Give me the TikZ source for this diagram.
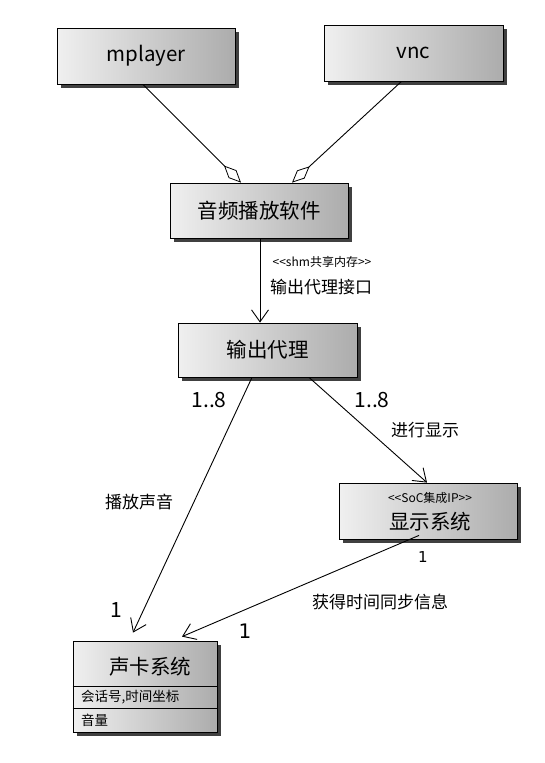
\documentclass[tikz,border=0pt]{standalone}
\usepackage{fontspec}
\setmainfont{Noto Sans CJK SC}
\newfontfamily\djv{DejaVu Sans}
\usetikzlibrary{arrows.meta,shadows,calc}
\tikzset{
  cls/.style={draw=black, line width=0.8pt, left color=gray!12, right color=gray!65,
    drop shadow={shadow xshift=3.5pt, shadow yshift=-4pt, opacity=0.75, fill=black},
    inner sep=0pt, font=\fontsize{20.5}{22}\selectfont},
  conn/.style={draw=black, line width=0.9pt},
  openarrow/.style={-{Straight Barb[length=12pt,width=17pt,line width=0.9pt]}},
  agg/.style={{Diamond[open,length=24pt,width=11pt,line width=0.8pt]}-},
  lbl/.style={font=\fontsize{17}{19}\selectfont, inner sep=0pt},
  mult/.style={font=\fontsize{21}{23}\selectfont, inner sep=0pt},
  small/.style={font=\fontsize{12}{14}\selectfont, inner sep=0pt},
  attr/.style={font=\fontsize{13.5}{15}\selectfont, inner sep=0pt, anchor=west}
}
\begin{document}
\begin{tikzpicture}[x=1pt,y=-1pt]
\useasboundingbox (0,0) rectangle (544,763);
\fill[white] (0,0) rectangle (544,763);

\node[cls, minimum width=178pt, minimum height=56pt] (mp) at (146,56) {mplayer};
\node[cls, minimum width=179pt, minimum height=56pt] (vnc) at (413.5,53) {vnc};
\node[cls, minimum width=178pt, minimum height=55pt] (af) at (259,210.5) {音频播放软件};
\node[cls, minimum width=179pt, minimum height=54pt] (op) at (267.5,350) {输出代理};
\node[cls, minimum width=178pt, minimum height=56pt] (ds) at (428,511) {};
\node[small] (dsst) at (430,498) {<{}<SoC集成IP>{}>};
\node[font=\fontsize{20.5}{22}\selectfont, inner sep=0pt] (dst) at (430,522) {显示系统};
\node[cls, minimum width=144pt, minimum height=91pt] (sk) at (145,686.5) {};
\node[font=\fontsize{20.5}{22}\selectfont, inner sep=0pt] (skt) at (150,667) {声卡系统};
\draw[line width=0.6pt] (sk.west |- 0,686) -- (sk.east |- 0,686);
\draw[line width=0.6pt] (sk.west |- 0,708) -- (sk.east |- 0,708);
\node[attr] (ska) at (81,697) {会话号,时间坐标};
\node[attr] (skb) at (81,720) {音量};

% aggregations
\draw[conn, agg] ($(af.north)+(-18,0)$) -- ($(mp.south)+(-3,0)$);
\draw[conn, agg] ($(af.north)+(33,0)$) -- ($(vnc.south)+(-12,0)$);

% af -> op
\coordinate (a1) at ($(af.south)+(1,0)$);
\draw[conn, openarrow] (a1) -- (a1 |- op.north);
\node[small] (shm) at (322,262) {<{}<shm共享内存>{}>};
\node[lbl] (ifc) at (321,287) {输出代理接口};

% op -> sk
\draw[conn, openarrow] ($(op.south)+(-15.5,0)$) -- ($(sk.north)+(-12,-8)$);
\node[mult] (m1) at (209,400) {1..8};
\node[lbl] (l1) at (139,502) {播放声音};
\node[mult] (m2) at (116,610) {1};

% op -> ds
\draw[conn, openarrow] ($(op.south)+(41.5,0)$) -- ($(ds.north)+(-1,0)$);
\node[mult] (m3) at (372,400) {1..8};
\node[lbl] (l2) at (425,430) {进行显示};

% ds -> sk
\draw[conn, openarrow] ($(ds.south)+(-9,-4)$) -- ($(sk.north)+(37,-4)$);
\node[inner sep=0pt, font=\djv\fontsize{15}{16}\selectfont] (m4) at (423,557) {1};
\node[lbl] (l3) at (380,602) {获得时间同步信息};
\node[inner sep=0pt, font=\djv\fontsize{20}{22}\selectfont] (m5) at (245,631) {1};
\end{tikzpicture}
\end{document}
